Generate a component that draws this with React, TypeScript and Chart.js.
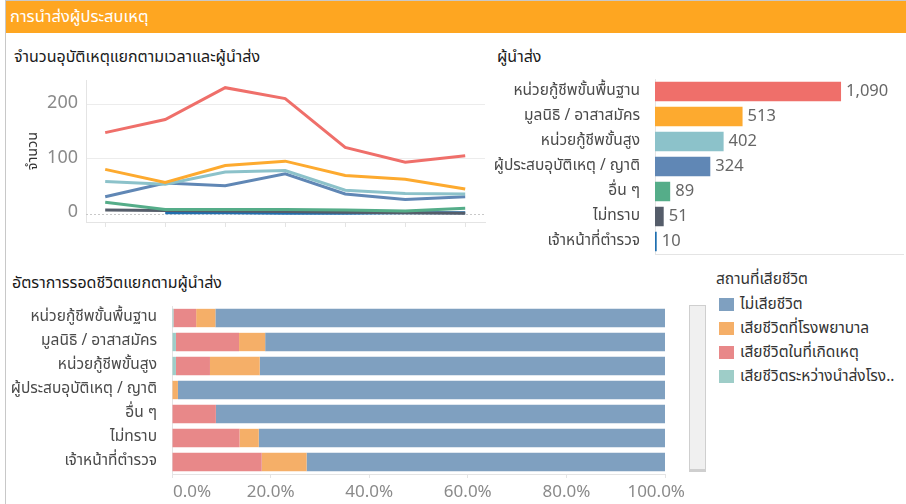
import React, { useEffect, useRef } from 'react';
import { Chart, registerables } from 'chart.js';

Chart.register(...registerables);

const FONT = '"Noto Sans Thai", "Noto Sans", "Open Sans", sans-serif';

// ---------- Line chart: accidents by time period and sender ----------
const periods = ['ช่วงที่ 1', 'ช่วงที่ 2', 'ช่วงที่ 3', 'ช่วงที่ 4', 'ช่วงที่ 5', 'ช่วงที่ 6', 'ช่วงที่ 7'];
const senders = [
  'หน่วยกู้ชีพขั้นพื้นฐาน',
  'มูลนิธิ / อาสาสมัคร',
  'หน่วยกู้ชีพขั้นสูง',
  'ผู้ประสบอุบัติเหตุ / ญาติ',
  'อื่น ๆ',
  'ไม่ทราบ',
  'เจ้าหน้าที่ตำรวจ',
];
const senderColors = ['#EF6F6A', '#FDAA2F', '#8CC2CA', '#6087B5', '#55AD89', '#555D6A', '#1F6FB0'];
const basicRescue = [148, 172, 230, 210, 121, 94, 106];
const foundation = [81, 57, 88, 96, 70, 63, 45];
const advancedRescue = [59, 54, 76, 79, 43, 37, 36];
const relatives = [31, 56, 51, 73, 36, 26, 31];
const others = [21, 8, 8, 8, 7, 5, 10];
const unknownSender = [7, 6, 5, 4, 3, 2, 1];
const police = [null, 2, 2, 1, 1, 2, 2];
const lineSeries = [basicRescue, foundation, advancedRescue, relatives, others, unknownSender, police];
const yTicks = [0, 100, 200];

// ---------- Bar chart: totals per sender ----------
const senderTotals = [1090, 513, 402, 324, 89, 51, 10];

// ---------- Stacked 100% bar: survival by sender ----------
const outcomes = ['ไม่เสียชีวิต', 'เสียชีวิตที่โรงพยาบาล', 'เสียชีวิตในที่เกิดเหตุ', 'เสียชีวิตระหว่างนำส่งโรงพยาบาล'];
const outcomeColors = ['#7FA0C0', '#F5AF68', '#E88889', '#9ECDC8'];
const survived = [91.2, 81.1, 82.2, 98.8, 91.1, 82.4, 72.7];
const diedHospital = [3.9, 5.3, 10.1, 1.2, 0, 3.9, 9.1];
const diedScene = [4.6, 12.8, 6.9, 0, 8.9, 13.7, 18.2];
const diedTransit = [0.3, 0.8, 0.8, 0, 0, 0, 0];
const pctTicks = [0, 20, 40, 60, 80, 100];

const GRID = '#ececec';
const AXIS = '#e4e4e4';
const TICK_TXT = '#8a8a8a';
const LABEL_TXT = '#4a4a4a';

const shortLabel = (s: string, n: number) => (s.length > n ? s.slice(0, n) + '..' : s);

const noPad = (sc: any) => {
  sc.paddingLeft = 0;
  sc.paddingRight = 0;
  sc.paddingTop = 0;
  sc.paddingBottom = 0;
};

const zeroLinePlugin = {
  id: 'zeroLine',
  beforeDatasetsDraw(chart: any) {
    const y = chart.scales.y.getPixelForValue(0);
    const { left, right } = chart.chartArea;
    const ctx = chart.ctx;
    ctx.save();
    ctx.strokeStyle = '#c9c9c9';
    ctx.lineWidth = 1;
    ctx.setLineDash([2, 2]);
    ctx.beginPath();
    ctx.moveTo(left, Math.round(y) + 0.5);
    ctx.lineTo(right, Math.round(y) + 0.5);
    ctx.stroke();
    ctx.restore();
  },
};

const valueLabelPlugin = {
  id: 'valueLabels',
  afterDatasetsDraw(chart: any) {
    const ctx = chart.ctx;
    const meta = chart.getDatasetMeta(0);
    ctx.save();
    ctx.font = `16.5px ${FONT}`;
    ctx.fillStyle = '#666';
    ctx.textAlign = 'left';
    ctx.textBaseline = 'middle';
    meta.data.forEach((el: any, i: number) => {
      const v = chart.data.datasets[0].data[i];
      ctx.fillText(v.toLocaleString('en-US'), el.x + 5, el.y + 1);
    });
    ctx.restore();
  },
};

const edgeTickPlugin = {
  id: 'edgeTicks',
  beforeDraw(chart: any) {
    const scale = chart.scales.x;
    const items = scale.getLabelItems(chart.chartArea);
    if (!items || !items.length) return;
    const first = items[0];
    first.options.textAlign = 'left';
    first.options.translation[0] = scale.getPixelForValue(pctTicks[0]) + 1;
    const last = items[items.length - 1];
    last.options.textAlign = 'right';
    last.options.translation[0] = chart.width - 1;
  },
};

export default function App() {
  const lineRef = useRef<HTMLCanvasElement>(null);
  const barRef = useRef<HTMLCanvasElement>(null);
  const stackRef = useRef<HTMLCanvasElement>(null);

  useEffect(() => {
    Chart.defaults.font.family = FONT;

    const lineChart = new Chart(lineRef.current!, {
      type: 'line',
      data: {
        datasets: lineSeries.map((s, k) => ({
          label: senders[k],
          data: s.map((v, i) => ({ x: i, y: v })),
          borderColor: senderColors[k],
          backgroundColor: senderColors[k],
          borderWidth: 3,
          pointRadius: 0,
          tension: 0,
          spanGaps: false,
        })),
      },
      options: {
        responsive: false,
        animation: false,
        layout: { padding: { top: 10, right: 5, left: 0, bottom: 0 } },
        plugins: { legend: { display: false }, tooltip: { enabled: false } },
        scales: {
          x: {
            type: 'linear',
            min: -0.32,
            max: periods.length - 1 + 0.33,
            afterBuildTicks: (sc: any) => {
              sc.ticks = periods.map((_, i) => ({ value: i }));
            },
            afterFit: (sc: any) => {
              sc.height = 13;
              noPad(sc);
            },
            ticks: { display: false },
            grid: { drawOnChartArea: false, drawTicks: true, tickLength: 5, tickColor: AXIS },
            border: { color: AXIS },
          },
          y: {
            min: -15,
            max: 244,
            afterBuildTicks: (sc: any) => {
              sc.ticks = yTicks.map((v) => ({ value: v }));
            },
            afterFit: (sc: any) => {
              sc.width = 86;
              noPad(sc);
            },
            ticks: { color: TICK_TXT, font: { size: 18 }, padding: 8 },
            grid: {
              drawTicks: false,
              color: (c: any) => (c.tick && c.tick.value === 0 ? 'rgba(0,0,0,0)' : GRID),
            },
            border: { color: AXIS },
            title: {
              display: true,
              text: 'จำนวน',
              color: '#333',
              font: { size: 14.5 },
              padding: { top: 25, bottom: 0 },
            },
          },
        },
      },
      plugins: [zeroLinePlugin],
    } as any);

    const barChart = new Chart(barRef.current!, {
      type: 'bar',
      data: {
        labels: senders,
        datasets: [
          {
            label: 'ผู้นำส่ง',
            data: senderTotals,
            backgroundColor: senderColors,
            barPercentage: 0.78,
            categoryPercentage: 1,
          },
        ],
      },
      options: {
        indexAxis: 'y',
        responsive: false,
        animation: false,
        layout: { padding: { top: 9, right: 3, left: 0, bottom: 0 } },
        plugins: { legend: { display: false }, tooltip: { enabled: false } },
        scales: {
          x: {
            min: 0,
            max: 1453,
            ticks: { display: false },
            grid: { display: false },
            border: { color: AXIS },
            afterFit: (sc: any) => {
              sc.height = 6;
              noPad(sc);
            },
          },
          y: {
            ticks: { color: LABEL_TXT, font: { size: 15.5 }, padding: 7 },
            grid: { display: false },
            border: { color: AXIS },
            afterFit: (sc: any) => {
              sc.width = 165;
              noPad(sc);
            },
          },
        },
      },
      plugins: [valueLabelPlugin],
    } as any);

    const stackSeries = [diedTransit, diedScene, diedHospital, survived];
    const stackNames = [outcomes[3], outcomes[2], outcomes[1], outcomes[0]];
    const stackColors = [outcomeColors[3], outcomeColors[2], outcomeColors[1], outcomeColors[0]];

    const stackChart = new Chart(stackRef.current!, {
      type: 'bar',
      data: {
        labels: senders,
        datasets: stackSeries.map((s, k) => ({
          label: stackNames[k],
          data: s,
          backgroundColor: stackColors[k],
          barPercentage: 0.765,
          categoryPercentage: 1,
        })),
      },
      options: {
        indexAxis: 'y',
        responsive: false,
        animation: false,
        layout: { padding: { top: 6, right: 21, left: 0, bottom: 0 } },
        plugins: { legend: { display: false }, tooltip: { enabled: false } },
        scales: {
          x: {
            stacked: true,
            min: 0,
            max: 100,
            afterBuildTicks: (sc: any) => {
              sc.ticks = pctTicks.map((v) => ({ value: v }));
            },
            ticks: {
              color: TICK_TXT,
              font: { size: 17 },
              padding: 5,
              maxRotation: 0,
              callback: (v: any) => Number(v).toFixed(1) + '%',
            },
            grid: { drawOnChartArea: false, drawTicks: true, tickLength: 4, tickColor: AXIS },
            border: { color: AXIS },
            afterFit: (sc: any) => {
              sc.height = 26;
              noPad(sc);
            },
          },
          y: {
            stacked: true,
            ticks: { color: LABEL_TXT, font: { size: 15.5 }, padding: 7 },
            grid: { display: false },
            border: { color: AXIS },
            afterFit: (sc: any) => {
              sc.width = 166;
              noPad(sc);
            },
          },
        },
      },
      plugins: [edgeTickPlugin],
    } as any);

    return () => {
      lineChart.destroy();
      barChart.destroy();
      stackChart.destroy();
    };
  }, []);

  const abs = (l: number, t: number, extra: any = {}) => ({ position: 'absolute' as const, left: l, top: t, ...extra });

  return (
    <div
      style={{
        position: 'fixed',
        left: 0,
        top: 0,
        width: 906,
        height: 504,
        background: '#fff',
        overflow: 'hidden',
        fontFamily: FONT,
      }}
    >
      {/* frame */}
      <div style={abs(5, 0, { width: 1, height: 504, background: '#c8c8c8' })} />
      <div style={abs(5, 0, { width: 901, height: 1, background: '#c8c8c8' })} />
      {/* header */}
      <div
        style={abs(6, 1, {
          width: 900,
          height: 32,
          background: '#FEA621',
          color: '#fff',
          fontSize: 16.5,
          lineHeight: '32px',
          paddingLeft: 4,
          boxSizing: 'border-box',
          whiteSpace: 'nowrap',
        })}
      >
        การนำส่งผู้ประสบเหตุ
      </div>

      {/* titles */}
      <div style={abs(14, 47, { fontSize: 16, lineHeight: '20px', color: '#1a1a1a', whiteSpace: 'nowrap' })}>
        จำนวนอุบัติเหตุแยกตามเวลาและผู้นำส่ง
      </div>
      <div style={abs(497, 47, { fontSize: 16, lineHeight: '20px', color: '#1a1a1a', whiteSpace: 'nowrap' })}>
        ผู้นำส่ง
      </div>
      <div style={abs(12, 273, { fontSize: 16, lineHeight: '20px', color: '#1a1a1a', whiteSpace: 'nowrap' })}>
        อัตราการรอดชีวิตแยกตามผู้นำส่ง
      </div>

      {/* charts */}
      <canvas ref={lineRef} width={490} height={165} style={abs(0, 70, { width: 490, height: 165 })} />
      <canvas ref={barRef} width={416} height={190} style={abs(490, 70, { width: 416, height: 190 })} />
      <canvas ref={stackRef} width={680} height={200} style={abs(6, 300, { width: 680, height: 200 })} />

      {/* scrollbar of the lower view */}
      <div
        style={abs(689, 305, {
          width: 17,
          height: 167,
          background: '#f0f0f0',
          border: '1px solid #cfcfcf',
          borderBottom: '3px solid #cfcfcf',
          boxSizing: 'border-box',
        })}
      />

      {/* legend */}
      <div style={abs(716, 270, { fontSize: 15.5, lineHeight: '20px', color: '#333', whiteSpace: 'nowrap' })}>
        สถานที่เสียชีวิต
      </div>
      {outcomes.map((name, i) => (
        <div key={name} style={abs(719, 292 + i * 24, { height: 24, display: 'flex', alignItems: 'center' })}>
          <div style={{ width: 15, height: 13, background: outcomeColors[i], marginRight: 6 }} />
          <div style={{ fontSize: 15.5, color: '#333', whiteSpace: 'nowrap' }}>{shortLabel(name, 24)}</div>
        </div>
      ))}
    </div>
  );
}
